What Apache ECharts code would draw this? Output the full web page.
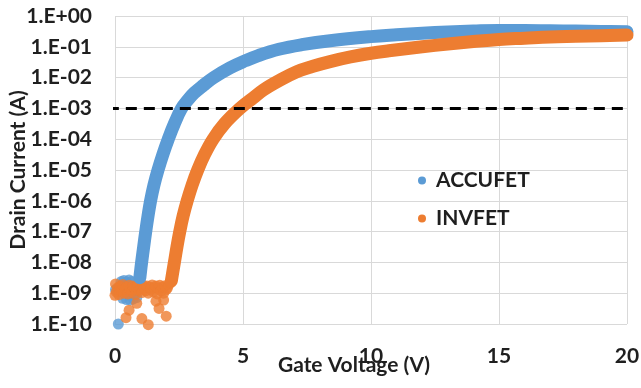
<!DOCTYPE html>
<html>
<head>
<meta charset="utf-8">
<script src="https://cdn.jsdelivr.net/npm/echarts@6/dist/echarts.min.js"></script>
<style>
  html, body {margin: 0; padding: 0; background: #fff;}
  #chart {width: 641px; height: 388px;}
</style>
</head>
<body>
<div id="chart"></div>
<script>
// ACCUFET: main transfer curve (V, A)
const accuV = [0.97, 1.04, 1.12, 1.2, 1.29, 1.39, 1.52, 1.68, 1.87, 2.08, 2.32, 2.6, 2.85, 3.1, 3.45, 3.85,
  4.5, 5.1, 5.6, 6.4, 7.3, 8.4, 10, 11, 12, 13, 14, 15, 16, 17, 18, 19, 20];
const accuI = [3.2e-9, 1e-8, 3.2e-8, 1e-7, 3.2e-7, 1e-6, 3.2e-6, 1e-5, 3.2e-5, 1e-4, 3.2e-4, 1e-3, 1.9e-3, 3.2e-3, 5.6e-3, 1e-2,
  0.0209, 0.0355, 0.052, 0.083, 0.117, 0.158, 0.214, 0.245, 0.275, 0.302, 0.324, 0.339, 0.339, 0.331, 0.324, 0.316, 0.309];
// ACCUFET: off-state noise points
const accuNoiseV = [0.02, 0.13, 0.25, 0.35, 0.45, 0.55, 0.65, 0.3, 0.45, 0.6, 0.72, 0.85, 0.9, 0.95];
const accuNoiseI = [1.3e-9, 1.0e-10, 2.4e-9, 2.6e-9, 2.3e-9, 2.7e-9, 2.4e-9, 6.8e-10, 6.2e-10, 6.0e-10, 6.5e-10, 7.2e-10, 1.5e-9, 2.2e-9];

// INVFET: main transfer curve (V, A)
const invV = [2.2, 2.32, 2.42, 2.53, 2.66, 2.82, 3.01, 3.23, 3.5, 3.83, 4.28, 4.88, 5.4, 5.8, 6.4, 7.1, 7.7,
  8.4, 9.2, 10, 10.7, 12, 13, 14, 15, 16, 17, 18, 19, 20];
const invI = [2.5e-9, 1e-8, 3.2e-8, 1e-7, 3.2e-7, 1e-6, 3.2e-6, 1e-5, 3.2e-5, 1e-4, 3.2e-4, 1e-3, 2.2e-3, 4.0e-3, 7.9e-3, 0.0155, 0.0229,
  0.0331, 0.0468, 0.0617, 0.0741, 0.1, 0.123, 0.148, 0.174, 0.191, 0.209, 0.219, 0.229, 0.24];
// INVFET: off-state noise points
const invNoiseV = [0.0, 0.02, 0.05, 0.1, 0.15, 0.2, 0.25, 0.3, 0.35, 0.4, 0.45, 0.5, 0.55, 0.6, 0.65, 0.7, 0.75, 0.8, 0.85, 0.9,
  0.95, 1.0, 1.05, 1.1, 1.15, 1.2, 1.25, 1.3, 1.35, 1.4, 1.45, 1.5, 1.55, 1.6, 1.65, 1.7, 1.75, 1.8, 1.85, 1.9,
  1.95, 2.0, 2.05, 2.1, 2.15,
  0.43, 0.55, 0.85, 1.05, 1.3, 1.6, 1.72, 1.9, 2.0];
const invNoiseI = [0.85e-9, 2.0e-9, 1.1e-9, 1.5e-9, 0.9e-9, 1.7e-9, 1.2e-9, 1.9e-9, 1.0e-9, 1.4e-9, 1.6e-9, 0.95e-9, 1.8e-9, 1.3e-9, 1.1e-9, 1.7e-9, 1.5e-9, 0.9e-9, 1.6e-9, 1.9e-9,
  1.2e-9, 1.4e-9, 1.05e-9, 1.8e-9, 1.5e-9, 1.2e-9, 1.7e-9, 1.0e-9, 1.6e-9, 1.35e-9, 1.85e-9, 1.1e-9, 1.5e-9, 1.7e-9, 0.95e-9, 1.4e-9, 1.8e-9, 1.2e-9, 1.6e-9, 1.0e-9,
  1.75e-9, 1.3e-9, 1.5e-9, 1.9e-9, 2.2e-9,
  1.6e-10, 2.8e-10, 4.7e-10, 1.5e-10, 9.5e-11, 5.5e-10, 3.2e-10, 6.0e-10, 1.8e-10];

// 1 mA reference line
const thresholdV = [-0.28, 20.2];
const thresholdI = [1e-3, 1e-3];

const zip = (xs, ys) => xs.map((x, i) => [x, ys[i]]);

const BLUE = '#5B9BD5';
const ORANGE = '#ED7D31';
const FONT = 'Lato';
const TEXT = '#1f1f1f';
const txt = {fontFamily: FONT, fontSize: 21, fontWeight: 'bold', color: TEXT};

const myChart = echarts.init(document.getElementById('chart'));
myChart.setOption({
  animation: false,
  grid: {left: 115, right: 14, top: 16, bottom: 64, outerBoundsMode: 'none', containLabel: false},
  legend: {
    data: ['ACCUFET', 'INVFET'],
    orient: 'vertical',
    left: 413,
    top: 165,
    icon: 'circle',
    itemWidth: 8,
    itemHeight: 8,
    itemGap: 17,
    textStyle: {...txt, padding: [0, 0, 0, 5]}
  },
  xAxis: {
    type: 'value',
    min: 0,
    max: 20,
    interval: 5,
    name: 'Gate Voltage (V)',
    nameLocation: 'middle',
    nameGap: 31,
    nameMoveOverlap: false,
    nameTextStyle: {...txt, padding: [0, 34, 0, 0]},
    axisLine: {show: false},
    axisTick: {show: false},
    axisLabel: {...txt, margin: 22},
    splitLine: {show: true, lineStyle: {color: '#d9d9d9', width: 1}}
  },
  yAxis: {
    type: 'log',
    logBase: 10,
    min: 1e-10,
    max: 1,
    interval: 1,
    name: 'Drain Current (A)',
    nameLocation: 'middle',
    nameGap: 86,
    nameMoveOverlap: false,
    nameTextStyle: txt,
    axisLine: {show: false},
    axisTick: {show: false},
    axisLabel: {
      ...txt, margin: 23,
      formatter(val) {
        const e = Math.round(Math.log10(val));
        return '1.E' + (e < 0 ? '-' : '+') + String(Math.abs(e)).padStart(2, '0');
      }
    },
    splitLine: {show: true, lineStyle: {color: '#d9d9d9', width: 1}}
  },
  series: [
    {
      name: 'ACCUFET', type: 'line', data: zip(accuV, accuI), color: BLUE,
      symbol: 'none', smooth: 0.4,
      lineStyle: {width: 13, cap: 'round', join: 'round'}
    },
    {
      name: 'ACCUFET', type: 'scatter', data: zip(accuNoiseV, accuNoiseI), color: BLUE,
      symbolSize: 11, clip: false
    },
    {
      name: 'INVFET', type: 'line', data: zip(invV, invI), color: ORANGE,
      symbol: 'none', smooth: 0.4,
      lineStyle: {width: 13, cap: 'round', join: 'round'}
    },
    {
      name: 'INVFET', type: 'scatter', data: zip(invNoiseV, invNoiseI), color: ORANGE,
      symbolSize: 11, clip: false
    },
    {
      name: 'threshold', type: 'line', data: zip(thresholdV, thresholdI), clip: false,
      symbol: 'none', silent: true,
      lineStyle: {color: '#000', width: 3, type: [11, 7]}
    }
  ]
});
</script>
</body>
</html>
